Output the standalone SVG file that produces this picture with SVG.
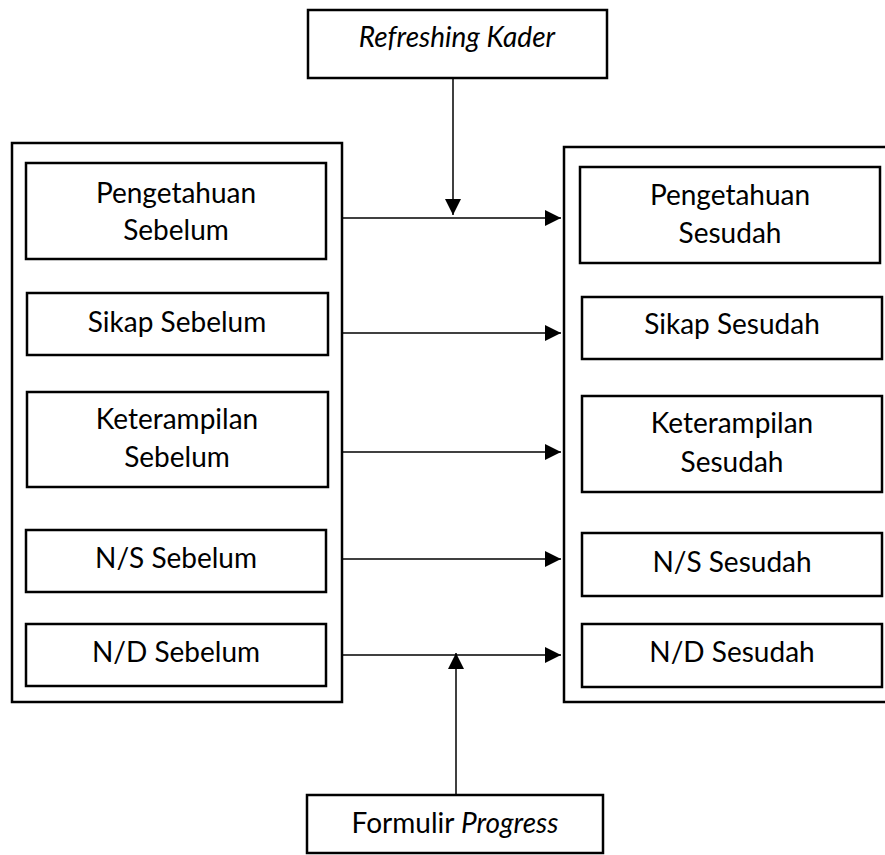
<svg xmlns="http://www.w3.org/2000/svg" width="885" height="855" viewBox="0 0 885 855">
<style>
.box{fill:#fff;stroke:#000;stroke-width:2.5}
.frame{fill:none;stroke:#000;stroke-width:2.5}
.conn{fill:none;stroke:#000;stroke-width:1.5}
text{font-family:Lato,"Open Sans","Liberation Sans",sans-serif;font-size:28px;fill:#000;text-anchor:middle}
.it{font-style:italic}
</style>
<defs>
<marker id="ah" markerUnits="userSpaceOnUse" markerWidth="18" markerHeight="16" refX="16" refY="8" orient="auto">
<path d="M0,0 L16,8 L0,16 Z" fill="#000"/>
</marker>
</defs>
<rect width="885" height="855" fill="#fff"/>
<g id="refreshing">
<rect class="box" x="308" y="10" width="299" height="68"/>
<text class="it" x="457" y="47">Refreshing Kader</text>
</g>
<g id="sebelum-frame"><rect class="frame" x="12" y="143" width="330" height="559"/></g>
<g id="sesudah-frame"><path class="frame" d="M890 147 H564 V702 H890"/></g>
<g id="peng-sebelum"><rect class="box" x="26" y="163" width="300" height="96"/><text x="176" y="203">Pengetahuan</text><text x="176" y="240">Sebelum</text></g>
<g id="sikap-sebelum"><rect class="box" x="27" y="293" width="301" height="62"/><text x="177" y="332">Sikap Sebelum</text></g>
<g id="ket-sebelum"><rect class="box" x="27" y="392" width="301" height="95"/><text x="177" y="429">Keterampilan</text><text x="177" y="467">Sebelum</text></g>
<g id="ns-sebelum"><rect class="box" x="26" y="530" width="300" height="62"/><text x="176" y="568">N/S Sebelum</text></g>
<g id="nd-sebelum"><rect class="box" x="26" y="624" width="300" height="62"/><text x="176" y="662">N/D Sebelum</text></g>
<g id="peng-sesudah"><rect class="box" x="580" y="167" width="300" height="96"/><text x="730" y="205">Pengetahuan</text><text x="730" y="243">Sesudah</text></g>
<g id="sikap-sesudah"><rect class="box" x="582" y="297" width="300" height="62"/><text x="732" y="334">Sikap Sesudah</text></g>
<g id="ket-sesudah"><rect class="box" x="582" y="396" width="300" height="96"/><text x="732" y="433">Keterampilan</text><text x="732" y="472">Sesudah</text></g>
<g id="ns-sesudah"><rect class="box" x="582" y="533" width="300" height="63"/><text x="732" y="572">N/S Sesudah</text></g>
<g id="nd-sesudah"><rect class="box" x="582" y="624" width="300" height="63"/><text x="732" y="662">N/D Sesudah</text></g>
<g id="formulir">
<rect class="box" x="307" y="795" width="296" height="58"/>
<text x="455" y="833">Formulir <tspan class="it">Progress</tspan></text>
</g>
<g id="connectors">
<line class="conn" x1="453" y1="78" x2="453" y2="215" marker-end="url(#ah)"/>
<line class="conn" x1="456" y1="795" x2="456" y2="653" marker-end="url(#ah)"/>
<line class="conn" x1="342" y1="218" x2="561" y2="218" marker-end="url(#ah)"/>
<line class="conn" x1="342" y1="333" x2="561" y2="333" marker-end="url(#ah)"/>
<line class="conn" x1="342" y1="452" x2="561" y2="452" marker-end="url(#ah)"/>
<line class="conn" x1="342" y1="559" x2="561" y2="559" marker-end="url(#ah)"/>
<line class="conn" x1="342" y1="655" x2="561" y2="655" marker-end="url(#ah)"/>
</g>
</svg>
